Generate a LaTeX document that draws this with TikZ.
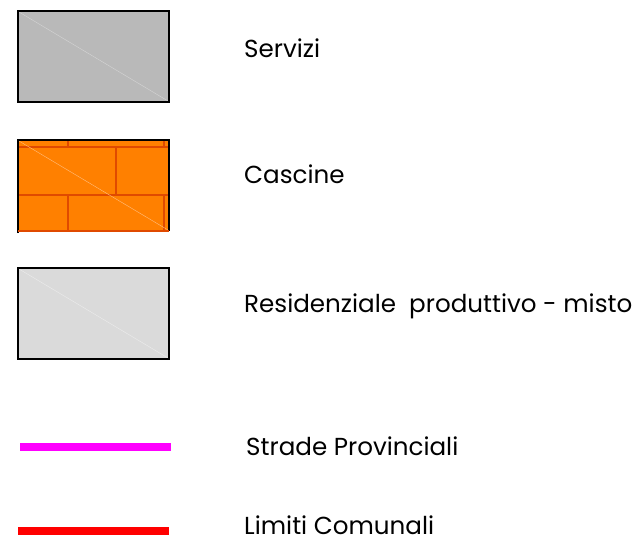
\documentclass[tikz,border=0pt]{standalone}
\usepackage{fontspec}
\setmainfont{Poppins}
\begin{document}
\begin{tikzpicture}[x=1pt,y=-1pt,
  legbox/.style={draw=black,line width=1.6pt},
  diag/.style={line width=0.4pt},
  brick/.style={draw=brickc,line width=1.3pt},
  lbl/.style={anchor=base west,inner sep=0pt,font=\fontsize{24.6}{24.6}\selectfont},
]
\definecolor{servc}{HTML}{B9B9B9}
\definecolor{cascc}{HTML}{FF8000}
\definecolor{brickc}{HTML}{E04A00}
\definecolor{resc}{HTML}{DADADA}
\definecolor{provc}{HTML}{FF00FF}
\useasboundingbox (0,0) rectangle (640,542);
% Servizi
\fill[servc] (18,11) rectangle (169,102);
\draw[diag,draw=servc!60!white] (19,12) -- (168,101);
\draw[legbox] (18,11) rectangle (169,102);
% Cascine
\fill[cascc] (18,140) rectangle (169,231);
\draw[brick] (18,147) -- (169,147);
\draw[brick] (18,195) -- (169,195);
\draw[brick] (68,140) -- (68,147);
\draw[brick] (164,140) -- (164,147);
\draw[brick] (116,147) -- (116,195);
\draw[brick] (68,195) -- (68,231);
\draw[brick] (164,195) -- (164,231);
\draw[diag,draw=cascc!50!white] (19,141) -- (168,230);
\draw[black,line width=1.6pt] (18,233) -- (18,140) -- (169,140) -- (169,231);
\draw[brick] (18,231) -- (169,231);
% Residenziale
\fill[resc] (18,268) rectangle (169,359);
\draw[diag,draw=resc!50!white] (19,269) -- (168,358);
\draw[legbox] (18,268) rectangle (169,359);
% lines
\fill[provc] (20,443) rectangle (171,451);
\fill[red] (18,527) rectangle (169,535);
% labels
\node[lbl] (t1) at (244,57) {Servizi};
\node[lbl] (t2) at (244,183) {Cascine};
\node[lbl] (t3) at (244,312) {Residenziale\ \ produttivo - misto};
\node[lbl] (t4) at (246,455) {Strade Provinciali};
\node[lbl] (t5) at (244,534) {Limiti Comunali};
\end{tikzpicture}
\end{document}
